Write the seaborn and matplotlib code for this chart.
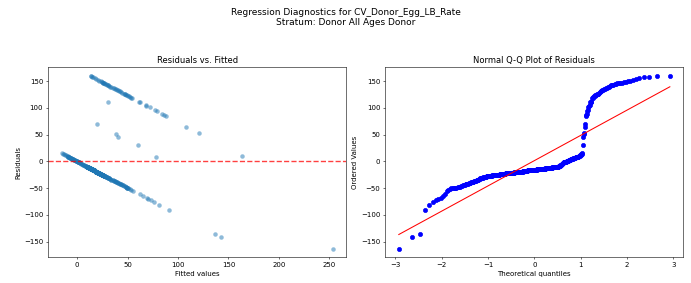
import numpy as np
import pandas as pd
import seaborn as sns
import matplotlib
matplotlib.use('Agg')
import matplotlib.pyplot as plt
from statistics import NormalDist

# observed outcome levels seen in the residual plot
zero_actual = 0.0
high_actual = 173.0

# fitted values of cases with an observed rate of 0 (with multiplicity)
zero_fitted = [-15.5, -14.5, -13.5, -12.5, -11.5, -10.5, -9.5,
               -9, -8, -7, -6, -5, -4, -3, -2,
               -1, 0, 1, 2, 3,
               4, 5, 6, 7, 8, 9,
               10, 11, 12, 13, 14,
               15, 16, 17, 18, 19,
               20, 21, 22, 23, 24,
               25, 26, 27,
               28, 29, 30, 31, 32, 33,
               34, 35, 36, 37, 38, 39, 40, 41,
               42, 43, 44, 45, 46, 47,
               48, 49, 50,
               52, 53.5, 55.5,
               62, 65, 69, 70.5, 73, 76, 81, 91, 136.4, 142.3]
zero_counts = [1, 1, 1, 1, 1, 1, 1,
               3, 3, 3, 3, 3, 3, 3, 2,
               3, 3, 4, 4, 3,
               1, 2, 2, 2, 2, 3,
               9, 10, 11, 12, 14,
               15, 16, 16, 16, 16,
               12, 13, 13, 8, 8,
               10, 9, 8,
               4, 3, 3, 3, 3, 2,
               2, 2, 2, 2, 2, 2, 2, 1,
               2, 2, 1, 2, 1, 1,
               3, 3, 2,
               1, 1, 1,
               1, 1, 1, 1, 1, 1, 1, 1, 1, 1]

# fitted values of cases with the high observed rate
high_fitted = [13.2, 14, 15, 16, 17.5, 19, 20.5, 22, 23.5,
               24.5, 25, 25.5, 26, 26.5, 27, 28, 28.5, 29.5,
               30.5, 31, 32, 33, 34, 35, 36, 37, 38, 39,
               40, 41, 42, 43, 44.5, 46, 47, 47.5, 48.5,
               49.5, 50.5, 51.5, 52.5, 53.5, 54.5,
               61.5, 62, 68, 68.5, 72, 77,
               79, 84, 86.5, 88.5,
               108, 120.5, 163.5]

# remaining cases
other_fitted = [19.5, 30.4, 38.3, 40.3, 60.1, 78.3, 253.3]
other_actual = [90, 141, 90, 86, 90.6, 85.8, 90]

fitted = np.concatenate([np.repeat(zero_fitted, zero_counts),
                         np.array(high_fitted),
                         np.array(other_fitted)])
actual = np.concatenate([np.full(sum(zero_counts), zero_actual),
                         np.full(len(high_fitted), high_actual),
                         np.array(other_actual)])
df = pd.DataFrame({'fitted': fitted, 'resid': actual - fitted})

# normal probability plot (Filliben order statistic medians)
n = len(df)
osr = np.sort(df['resid'].values)
m = (np.arange(1, n + 1) - 0.3175) / (n + 0.365)
m[-1] = 0.5 ** (1.0 / n)
m[0] = 1 - m[-1]
osm = np.array([NormalDist().inv_cdf(p) for p in m])
slope, intercept = np.polyfit(osm, osr, 1)

fig, axes = plt.subplots(1, 2, figsize=(13.82, 5.66), dpi=50)
fig.subplots_adjust(left=0.0695, right=0.989, bottom=0.091, top=0.762, wspace=0.131)

ax = axes[0]
sns.scatterplot(data=df, x='fitted', y='resid', alpha=0.5, s=42, linewidth=0, ax=ax)
ax.axhline(0, color='red', linestyle='--', linewidth=2, alpha=0.75)
ax.set_title('Residuals vs. Fitted')
ax.set_xlabel('Fitted values')
ax.set_ylabel('Residuals')

ax = axes[1]
sns.scatterplot(x=osm, y=osr, color='blue', edgecolor='blue', s=36, linewidth=1, ax=ax)
sns.lineplot(x=osm, y=slope * osm + intercept, color='red', ax=ax)
ax.set_title('Normal Q-Q Plot of Residuals')
ax.set_xlabel('Theoretical quantiles')
ax.set_ylabel('Ordered Values')

fig.suptitle('Regression Diagnostics for CV_Donor_Egg_LB_Rate\nStratum: Donor All Ages Donor',
             fontsize=13, y=0.972)
plt.savefig('out.png', dpi=50)
plt.close()
